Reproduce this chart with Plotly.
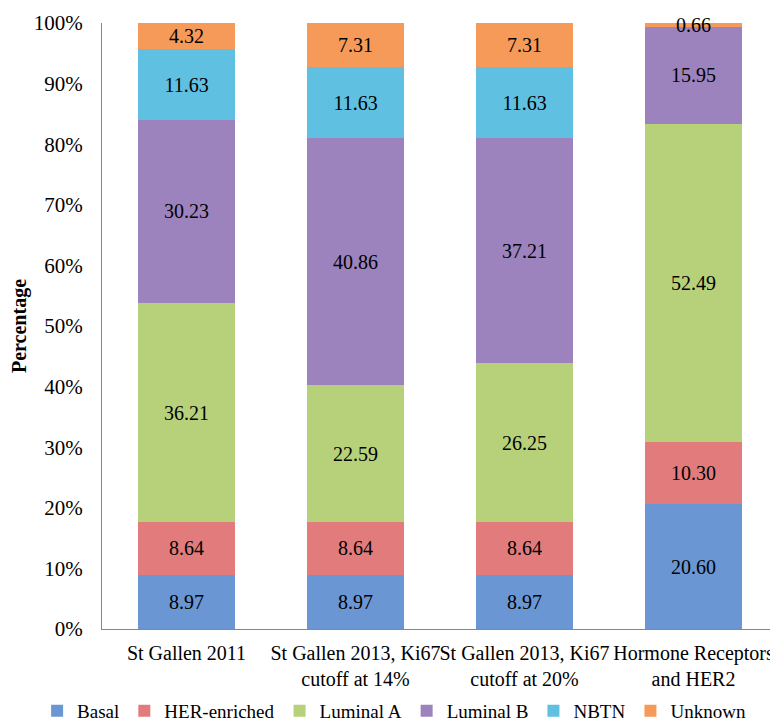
import plotly.graph_objects as go

categories = ["St Gallen 2011", "St Gallen 2013, Ki67<br>cutoff at 14%",
              "St Gallen 2013, Ki67<br>cutoff at 20%", "Hormone Receptors<br>and HER2"]
basal = [8.97, 8.97, 8.97, 20.60]
her_enriched = [8.64, 8.64, 8.64, 10.30]
luminal_a = [36.21, 22.59, 26.25, 52.49]
luminal_b = [30.23, 40.86, 37.21, 15.95]
nbtn = [11.63, 11.63, 11.63, 0]
unknown = [4.32, 7.31, 7.31, 0.66]

series = [
    ("Basal", basal, "#6a97d3"),
    ("HER-enriched", her_enriched, "#e27c7c"),
    ("Luminal A", luminal_a, "#b7d17a"),
    ("Luminal B", luminal_b, "#9c83be"),
    ("NBTN", nbtn, "#5fc0e2"),
    ("Unknown", unknown, "#f59a58"),
]

FONT = "Liberation Serif"
fig = go.Figure()
for name, vals, color in series:
    fig.add_trace(go.Bar(
        name=name, x=categories, y=vals,
        marker=dict(color=color, line=dict(width=0)),
        text=[f"{v:.2f}" if v > 0 else "" for v in vals],
        texttemplate="%{text}",
        textposition="inside", insidetextanchor="middle",
        textangle=0,
        textfont=dict(family=FONT, size=20, color="black"),
        constraintext="none",
        cliponaxis=False,
    ))

fig.update_layout(
    barmode="stack", bargap=0.43,
    width=778, height=724,
    margin=dict(l=94, r=8, t=15, b=103, autoexpand=False),
    plot_bgcolor="white", paper_bgcolor="white",
    font=dict(family=FONT, size=20, color="black"),
    uniformtext=dict(mode=False),
    xaxis=dict(showline=True, linecolor="#888888", linewidth=1, ticks="",
               tickangle=0, ticklabelstandoff=6, tickfont=dict(family=FONT, size=20)),
    yaxis=dict(range=[0, 100.02], tick0=0, dtick=10, ticksuffix="%", showgrid=False,
               showline=True, linecolor="#888888", linewidth=1, ticks="",
               ticklabelstandoff=14,
               tickfont=dict(family=FONT, size=21),
               title=dict(text="<b>Percentage</b>", font=dict(family=FONT, size=20), standoff=3)),
    legend=dict(orientation="h", xref="paper", yref="paper",
                x=-0.096, xanchor="left", y=-0.135, yanchor="middle",
                itemwidth=30,
                font=dict(family=FONT, size=19), traceorder="normal"),
)

fig.write_html("out.html")
